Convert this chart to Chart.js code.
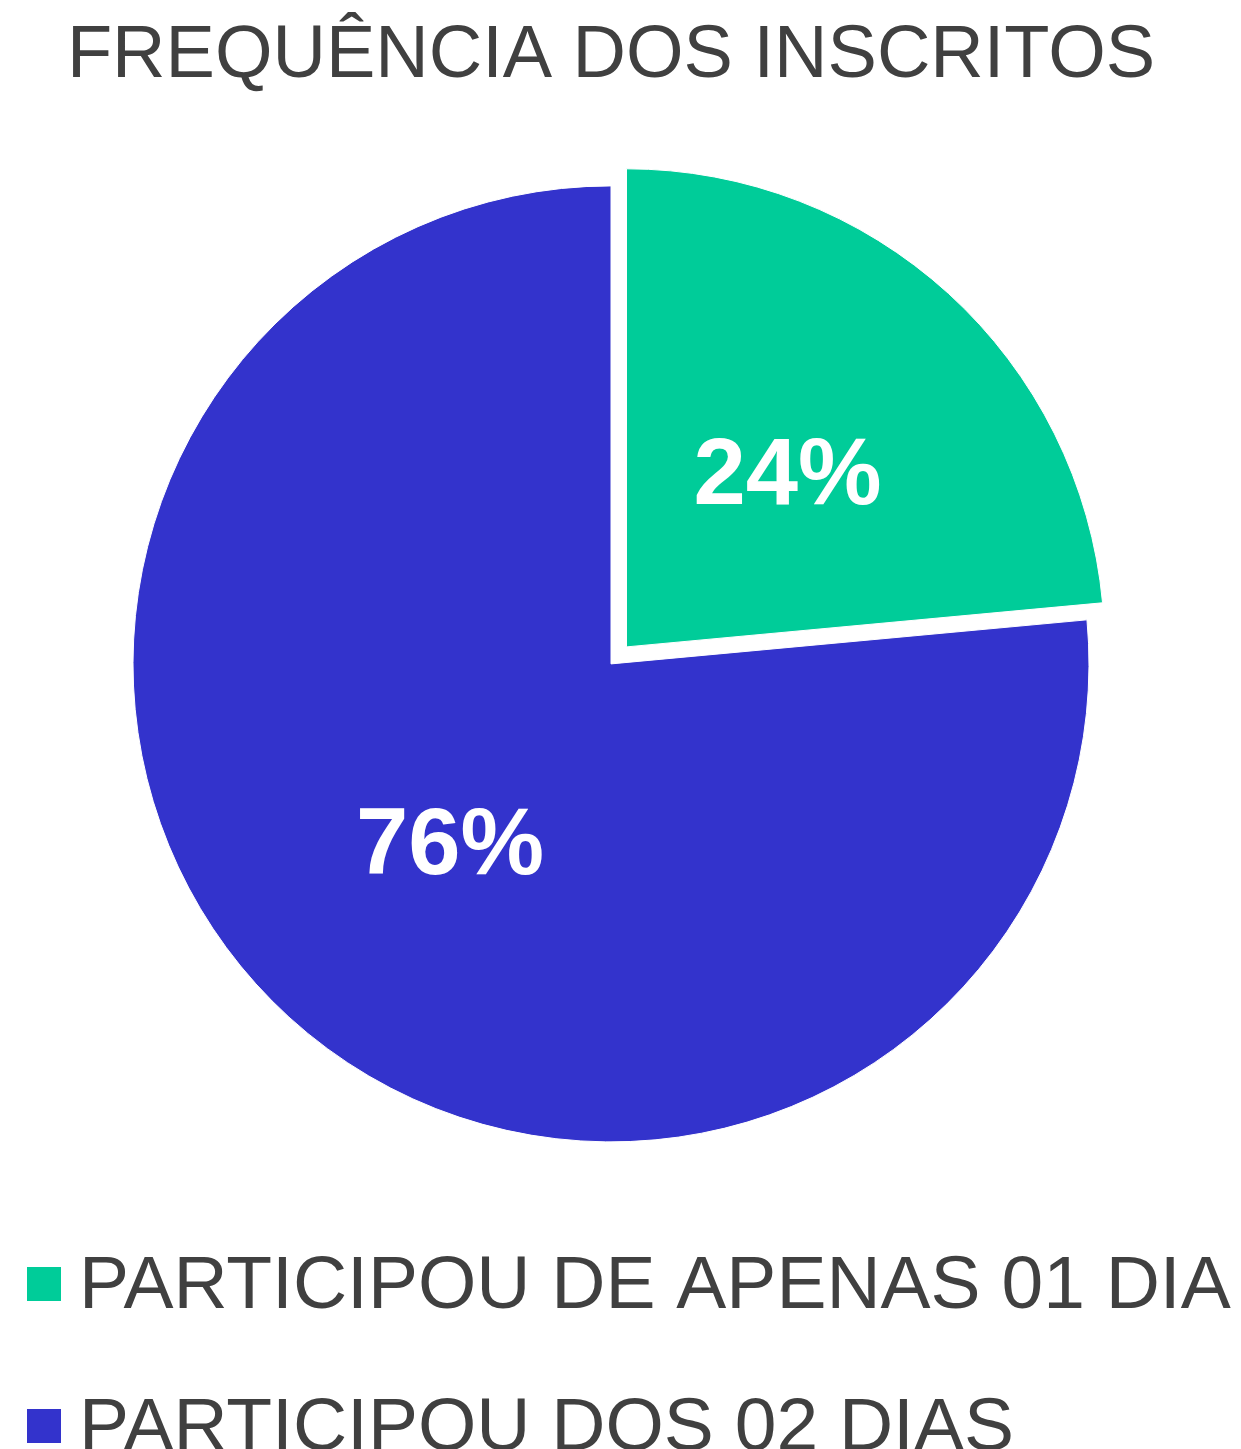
<!DOCTYPE html>
<html>
<head>
<meta charset="utf-8">
<script src="https://cdn.jsdelivr.net/npm/chart.js@4"></script>
<style>
  html, body { margin: 0; padding: 0; background: #ffffff; overflow: hidden; }
  canvas { display: block; }
</style>
</head>
<body>
<canvas id="c" width="1241" height="1449"></canvas>
<script>
const chartTitle = 'FREQUÊNCIA DOS INSCRITOS';
const categories = ['PARTICIPOU DE APENAS 01 DIA', 'PARTICIPOU DOS 02 DIAS'];
const values = [23.53, 76.47];
const colors = ['#00CC99', '#3333CC'];
const sliceOffsets = [92, 0];

const FONT = '"Liberation Sans", Arial, Helvetica, sans-serif';
const TEXT_COLOR = '#404040';

const dataLabelsPlugin = {
  id: 'dataLabels',
  afterDatasetsDraw(chart) {
    const ctx = chart.ctx;
    const meta = chart.getDatasetMeta(0);
    const data = chart.data.datasets[0].data;
    const total = data.reduce((a, b) => a + b, 0);
    const size = 94;
    ctx.save();
    ctx.fillStyle = '#ffffff';
    ctx.font = 'bold ' + size + 'px ' + FONT;
    ctx.textAlign = 'center';
    ctx.textBaseline = 'alphabetic';
    meta.data.forEach((arc, i) => {
      const p = arc.getProps(['x', 'y', 'startAngle', 'endAngle', 'outerRadius']);
      const half = (p.startAngle + p.endAngle) / 2;
      const shift = (arc.options.offset || 0) / 4;
      const r = p.outerRadius / 2 + shift;
      const x = p.x + Math.cos(half) * r;
      const y = p.y + Math.sin(half) * r;
      ctx.fillText(Math.round(data[i] / total * 100) + '%', x, y + 0.36 * size);
    });
    ctx.restore();
  }
};

const legendPlugin = {
  id: 'leftLegend',
  afterDraw(chart) {
    const ctx = chart.ctx;
    const labels = chart.data.labels;
    const bg = chart.data.datasets[0].backgroundColor;
    ctx.save();
    ctx.font = '75px ' + FONT;
    ctx.textAlign = 'left';
    ctx.textBaseline = 'alphabetic';
    labels.forEach((lab, i) => {
      const baseY = 1308 + i * 142;
      ctx.fillStyle = bg[i];
      ctx.fillRect(27, baseY - 41, 34, 34);
      ctx.fillStyle = TEXT_COLOR;
      ctx.fillText(lab, 79, baseY);
    });
    ctx.restore();
  }
};

new Chart(document.getElementById('c'), {
  type: 'pie',
  data: {
    labels: categories,
    datasets: [{
      data: values,
      backgroundColor: colors,
      borderColor: '#ffffff',
      borderWidth: 1,
      offset: sliceOffsets,
      radius: 478
    }]
  },
  options: {
    responsive: false,
    animation: false,
    events: [],
    layout: { padding: { top: 0, left: 0, right: 19, bottom: 241 } },
    plugins: {
      legend: { display: false },
      tooltip: { enabled: false },
      title: {
        display: true,
        text: chartTitle,
        color: TEXT_COLOR,
        font: { family: FONT, size: 74, weight: 'normal', lineHeight: 1.2 },
        padding: { top: 12, bottom: 19 }
      }
    }
  },
  plugins: [dataLabelsPlugin, legendPlugin]
});
</script>
</body>
</html>
